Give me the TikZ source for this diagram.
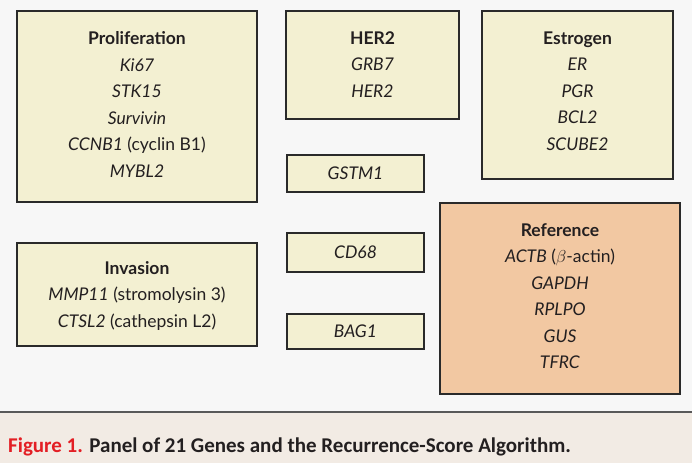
\documentclass[tikz,border=0pt]{standalone}
\usepackage{fontspec}
\setmainfont{Lato}
\newfontfamily\capfont{Carlito}
\definecolor{bgc}{HTML}{F7F7F7}
\definecolor{capbg}{HTML}{F2EBE4}
\definecolor{boxfill}{HTML}{F3F0D2}
\definecolor{reffill}{HTML}{F2C8A2}
\definecolor{edgec}{HTML}{2A2A2A}
\definecolor{figred}{HTML}{E31E24}
\definecolor{txt}{HTML}{231F20}
\begin{document}
\begin{tikzpicture}[x=1pt,y=-1pt,
  genebox/.style={draw=edgec,line width=1.6pt,fill=boxfill,inner sep=0pt},
  genetext/.style={align=center,text=txt,font=\fontsize{17.5}{26.5}\selectfont,inner sep=0pt}]
\useasboundingbox (0,0) rectangle (692,463);
\fill[bgc] (0,0) rectangle (692,412);
\fill[capbg] (0,412) rectangle (692,463);
\draw[line width=2pt,color=black!65] (0,412) -- (692,412);
% boxes
\draw[genebox] (17,11) rectangle (257,202);
\draw[genebox] (286,11) rectangle (459,119);
\draw[genebox] (482,11) rectangle (673,179);
\draw[genebox] (287,155) rectangle (424,192);
\draw[genebox] (17,243) rectangle (257,346);
\draw[genebox] (287,233) rectangle (424,272);
\draw[genebox] (287,314) rectangle (424,349);
\draw[genebox,fill=reffill] (440,203) rectangle (680,394);
% texts
\node[genetext] (prolif) at (137,104.5) {\textbf{Proliferation}\\ \textit{Ki67}\\ \textit{STK15}\\ \textit{Survivin}\\ \textit{CCNB1} (cyclin B1)\\ \textit{MYBL2}};
\node[genetext] (her2) at (372.5,64.5) {\textbf{HER2}\\ \textit{GRB7}\\ \textit{HER2}};
\node[genetext] (estro) at (577.5,91) {\textbf{Estrogen}\\ \textit{ER}\\ \textit{PGR}\\ \textit{BCL2}\\ \textit{SCUBE2}};
\node[genetext] (gstm) at (355.5,173.5) {\textit{GSTM1}};
\node[genetext] (inv) at (137,296) {\textbf{Invasion}\\ \textit{MMP11} (stromolysin 3)\\ \textit{CTSL2} (cathepsin L2)};
\node[genetext] (cd) at (355.5,252.5) {\textit{CD68}};
\node[genetext] (bag) at (355.5,331.5) {\textit{BAG1}};
\node[genetext] (ref) at (560,296) {\textbf{Reference}\\ \textit{ACTB} ($\beta$-actin)\\ \textit{GAPDH}\\ \textit{RPLPO}\\ \textit{GUS}\\ \textit{TFRC}};
\node[anchor=base west,inner sep=0pt,font=\capfont\bfseries\fontsize{21}{24}\selectfont] (cap) at (8,452) {\textcolor{figred}{Figure 1.} \textcolor{txt}{Panel of 21 Genes and the Recurrence-Score Algorithm.}};
\end{tikzpicture}
\end{document}
